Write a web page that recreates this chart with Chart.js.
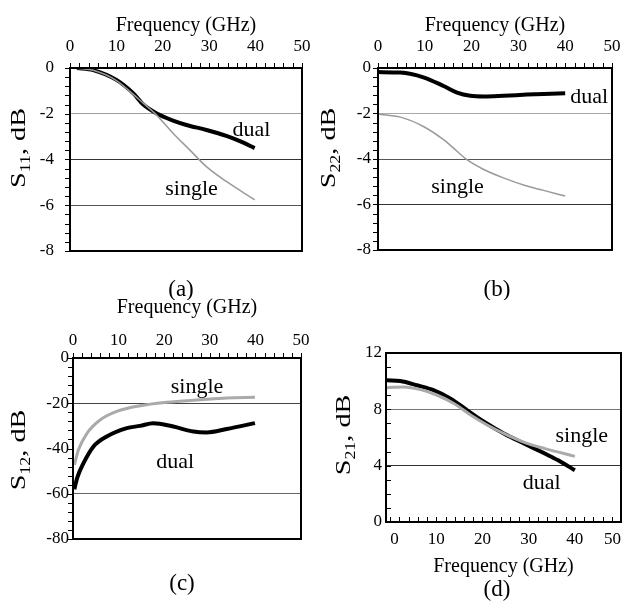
<!DOCTYPE html>
<html>
<head>
<meta charset="utf-8">
<script src="https://cdn.jsdelivr.net/npm/chart.js@4.4.0/dist/chart.umd.min.js"></script>
<style>
  body { margin: 0; width: 626px; height: 602px; overflow: hidden; background: #fff; position: relative; }
  canvas { position: absolute; }
</style>
</head>
<body>
<canvas id="chartA" width="313" height="300" style="left:0;top:0"></canvas>
<canvas id="chartB" width="313" height="300" style="left:313px;top:0"></canvas>
<canvas id="chartC" width="313" height="312" style="left:0;top:290px"></canvas>
<canvas id="chartD" width="313" height="312" style="left:313px;top:290px"></canvas>
<script>
const FONT = "'Liberation Serif', 'Times New Roman', serif";

// frequency axis (GHz)
const freqTicks = [0, 10, 20, 30, 40, 50];

// (a) S11
const s11Ticks = [0, -2, -4, -6, -8];
const s11DualFreq = [1.5, 5, 10, 13.6, 15.8, 18.6, 22.2, 25.1, 29.4, 33.7, 36.6, 39.8];
const s11Dual = [0, -0.09, -0.52, -1.1, -1.6, -1.98, -2.3, -2.49, -2.71, -2.97, -3.2, -3.5];
const s11SingleFreq = [0, 5, 10, 15, 18.6, 22.2, 25.8, 29.4, 33.7, 39.8];
const s11Single = [0, -0.1, -0.55, -1.4, -2.05, -2.85, -3.58, -4.31, -4.96, -5.76];

// (b) S22
const s22Ticks = [0, -2, -4, -6, -8];
const s22DualFreq = [0, 4.8, 9.7, 14.0, 16.9, 19.7, 22.6, 26.8, 31.8, 35.4, 40.0];
const s22Dual = [-0.18, -0.2, -0.41, -0.79, -1.08, -1.22, -1.25, -1.22, -1.17, -1.14, -1.11];
const s22SingleFreq = [0, 4.8, 9.7, 14.0, 16.9, 19.0, 22.6, 26.8, 31.8, 35.4, 40.0];
const s22Single = [-2.03, -2.16, -2.57, -3.15, -3.66, -4.03, -4.46, -4.83, -5.19, -5.38, -5.63];

// (c) S12
const s12Ticks = [0, -20, -40, -60, -80];
const s12DualFreq = [0.3, 0.9, 2.3, 4.5, 7.4, 11.8, 14.7, 17.6, 22.0, 26.4, 29.3, 33.7, 39.9];
const s12Dual = [-58, -53.1, -46.5, -39.1, -34.7, -31.0, -30.0, -28.8, -30.3, -32.5, -32.9, -31.4, -28.8];
const s12SingleFreq = [0.3, 1.2, 3.1, 6.0, 9.6, 14.7, 20.6, 27.9, 33.7, 39.9];
const s12Single = [-47.2, -40.6, -33.2, -27.3, -23.6, -21.1, -19.6, -18.5, -17.7, -17.4];

// (d) S21
const s21Ticks = [0, 4, 8, 12];
const s21DualFreq = [-0.7, 2.2, 5.8, 9.5, 13.1, 16.7, 20.4, 24.7, 29.1, 33.5, 36.4, 40.0];
const s21Dual = [10.06, 10.01, 9.71, 9.35, 8.76, 7.93, 7.1, 6.27, 5.56, 4.86, 4.38, 3.67];
const s21SingleFreq = [-0.7, 2.9, 6.6, 10.2, 13.8, 17.5, 21.1, 25.5, 29.8, 33.5, 40.0];
const s21Single = [9.54, 9.59, 9.4, 9.0, 8.41, 7.58, 6.87, 6.15, 5.56, 5.21, 4.66];

function pts(xs, ys) {
  return xs.map((x, i) => ({ x: x, y: ys[i] }));
}

// draws "S", subscript, ", dB" rotated (the original figure is stretched along y)
function drawYTitle(ctx, x, y, sub) {
  ctx.save();
  ctx.translate(x, y);
  ctx.rotate(-Math.PI / 2);
  ctx.scale(1.28, 1);
  ctx.fillStyle = '#000';
  ctx.textBaseline = 'alphabetic';
  const big = '22px ' + FONT, small = '14px ' + FONT;
  ctx.font = big;
  const wS = ctx.measureText('S').width, wT = ctx.measureText(', dB').width;
  ctx.font = small;
  const wSub = ctx.measureText(sub).width;
  let cx = -(wS + wSub + wT) / 2;
  ctx.font = big; ctx.fillText('S', cx, 7); cx += wS;
  ctx.font = small; ctx.fillText(sub, cx, 12); cx += wSub;
  ctx.font = big; ctx.fillText(', dB', cx, 7);
  ctx.restore();
}

const decor = {
  id: 'decor',
  afterDraw(chart) {
    const p = chart.options.plugins.decor;
    const ctx = chart.ctx, a = chart.chartArea;
    const xs = chart.scales.x, ys = chart.scales.y;
    const tl = p.inward ? 5 : -5;
    ctx.save();
    // minor ticks
    ctx.strokeStyle = '#000';
    ctx.lineWidth = 1;
    ctx.beginPath();
    for (let v = 0; v <= 50; v += 2) {
      const px = Math.round(xs.getPixelForValue(v)) + 0.5;
      if (p.xBottom) { ctx.moveTo(px, a.bottom); ctx.lineTo(px, a.bottom - tl); }
      else { ctx.moveTo(px, a.top); ctx.lineTo(px, a.top + tl); }
    }
    for (let v = ys.min; v <= ys.max + 1e-9; v += p.yMinor) {
      const py = Math.round(ys.getPixelForValue(v)) + 0.5;
      ctx.moveTo(a.left, py); ctx.lineTo(a.left + tl, py);
    }
    ctx.stroke();
    // frame
    ctx.lineWidth = 2;
    ctx.strokeRect(a.left, a.top, a.right - a.left, a.bottom - a.top);
    // curve labels
    ctx.fillStyle = '#000';
    ctx.font = '22px ' + FONT;
    ctx.textAlign = 'center';
    ctx.textBaseline = 'middle';
    p.labels.forEach(l => {
      ctx.fillText(l.text, xs.getPixelForValue(l.x), ys.getPixelForValue(l.y));
    });
    // caption
    ctx.font = '23px ' + FONT;
    ctx.fillText(p.caption, p.capX, p.capY);
    ctx.restore();
    drawYTitle(ctx, p.titleX, p.titleY, p.sub);
  }
};

function makeChart(id, o) {
  const grid = o.grid;
  new Chart(document.getElementById(id), {
    type: 'line',
    data: {
      datasets: [
        { label: 'single', data: pts(o.singleX, o.singleY), borderColor: o.singleColor, borderWidth: o.singleWidth,
          pointRadius: 0, cubicInterpolationMode: 'monotone', fill: false },
        { label: 'dual', data: pts(o.dualX, o.dualY), borderColor: '#000', borderWidth: 4,
          pointRadius: 0, cubicInterpolationMode: 'monotone', fill: false }
      ]
    },
    options: {
      responsive: false,
      animation: false,
      layout: { autoPadding: false, padding: o.pad },
      plugins: {
        legend: { display: false },
        tooltip: { enabled: false },
        decor: o.decor
      },
      scales: {
        x: {
          type: 'linear', position: o.xPos, min: o.xMin, max: 50,
          afterBuildTicks: s => { s.ticks = freqTicks.map(v => ({ value: v })); },
          afterFit: s => { s.height = o.xH; s.paddingLeft = 0; s.paddingRight = 0; },
          grid: { display: false },
          border: { display: false },
          ticks: { color: '#000', font: { family: FONT, size: 17 }, padding: o.xTickPad, maxRotation: 0,
            autoSkip: false, align: o.xAlign || 'center' },
          title: { display: true, text: 'Frequency (GHz)', color: '#000', font: { family: FONT, size: 20 }, padding: o.xTitlePad }
        },
        y: {
          type: 'linear', min: Math.min.apply(null, o.yTicks), max: Math.max.apply(null, o.yTicks),
          afterBuildTicks: s => { s.ticks = o.yTicks.map(v => ({ value: v })); },
          afterFit: s => { s.width = o.yW; s.paddingTop = 0; s.paddingBottom = 0; },
          grid: { drawTicks: false, lineWidth: 1, color: c => grid[c.tick.value] || 'rgba(0,0,0,0)' },
          border: { display: false },
          ticks: { color: '#000', font: { family: FONT, size: 17 }, padding: o.yTickPad }
        }
      }
    },
    plugins: [decor]
  });
}

makeChart('chartA', {
  singleX: s11SingleFreq, singleY: s11Single, dualX: s11DualFreq, dualY: s11Dual,
  singleColor: '#9a9a9a', singleWidth: 1.5,
  yTicks: s11Ticks, grid: { '-2': '#a0a0a0', '-4': '#333', '-6': '#555' },
  xPos: 'top', xMin: 0, xH: 68, xTickPad: 3, xTitlePad: { top: 14, bottom: 0 },
  yW: 70, yTickPad: 16, pad: { left: 0, top: 0, right: 11, bottom: 49 },
  decor: { yMinor: 0.4, labels: [{ text: 'dual', x: 39.1, y: -2.7 }, { text: 'single', x: 26.2, y: -5.3 }],
    caption: '(a)', capX: 181, capY: 290, titleX: 18, titleY: 148, sub: '11' }
});

makeChart('chartB', {
  singleX: s22SingleFreq, singleY: s22Single, dualX: s22DualFreq, dualY: s22Dual,
  singleColor: '#9a9a9a', singleWidth: 1.5,
  yTicks: s22Ticks, grid: { '-2': '#a8a8a8', '-4': '#555', '-6': '#333' },
  xPos: 'top', xMin: 0, xH: 68, xTickPad: 3, xTitlePad: { top: 14, bottom: 0 },
  yW: 65, yTickPad: 7, pad: { left: 0, top: 0, right: 14, bottom: 50 },
  decor: { yMinor: 0.4, labels: [{ text: 'dual', x: 45.1, y: -1.27 }, { text: 'single', x: 17.0, y: -5.25 }],
    caption: '(b)', capX: 184, capY: 290, titleX: 15, titleY: 148, sub: '22' }
});

makeChart('chartC', {
  singleX: s12SingleFreq, singleY: s12Single, dualX: s12DualFreq, dualY: s12Dual,
  singleColor: '#aaaaaa', singleWidth: 3,
  yTicks: s12Ticks, grid: { '-20': '#444', '-60': '#666' },
  xPos: 'top', xMin: 0, xH: 68, xTickPad: -1, xTitlePad: { top: 6, bottom: 0 },
  yW: 73, yTickPad: 4, pad: { left: 0, top: 0, right: 12, bottom: 63 },
  decor: { yMinor: 4, labels: [{ text: 'single', x: 27.2, y: -12.7 }, { text: 'dual', x: 22.4, y: -45.9 }],
    caption: '(c)', capX: 182, capY: 294, titleX: 18, titleY: 160, sub: '12' }
});

makeChart('chartD', {
  singleX: s21SingleFreq, singleY: s21Single, dualX: s21DualFreq, dualY: s21Dual,
  singleColor: '#aaaaaa', singleWidth: 3,
  yTicks: s21Ticks, grid: { '8': '#777', '4': '#333' },
  xPos: 'bottom', xMin: -0.9, xH: 60, xTickPad: -1, xTitlePad: { top: 0, bottom: 3 }, xAlign: 'inner',
  yW: 73, yTickPad: 4, pad: { left: 0, top: 63, right: 5, bottom: 20 },
  decor: { xBottom: true, inward: true, yMinor: 1, labels: [{ text: 'single', x: 41.5, y: 6.08 }, { text: 'dual', x: 32.8, y: 2.75 }],
    caption: '(d)', capX: 184, capY: 300, titleX: 30, titleY: 145, sub: '21' }
});
</script>
</body>
</html>
